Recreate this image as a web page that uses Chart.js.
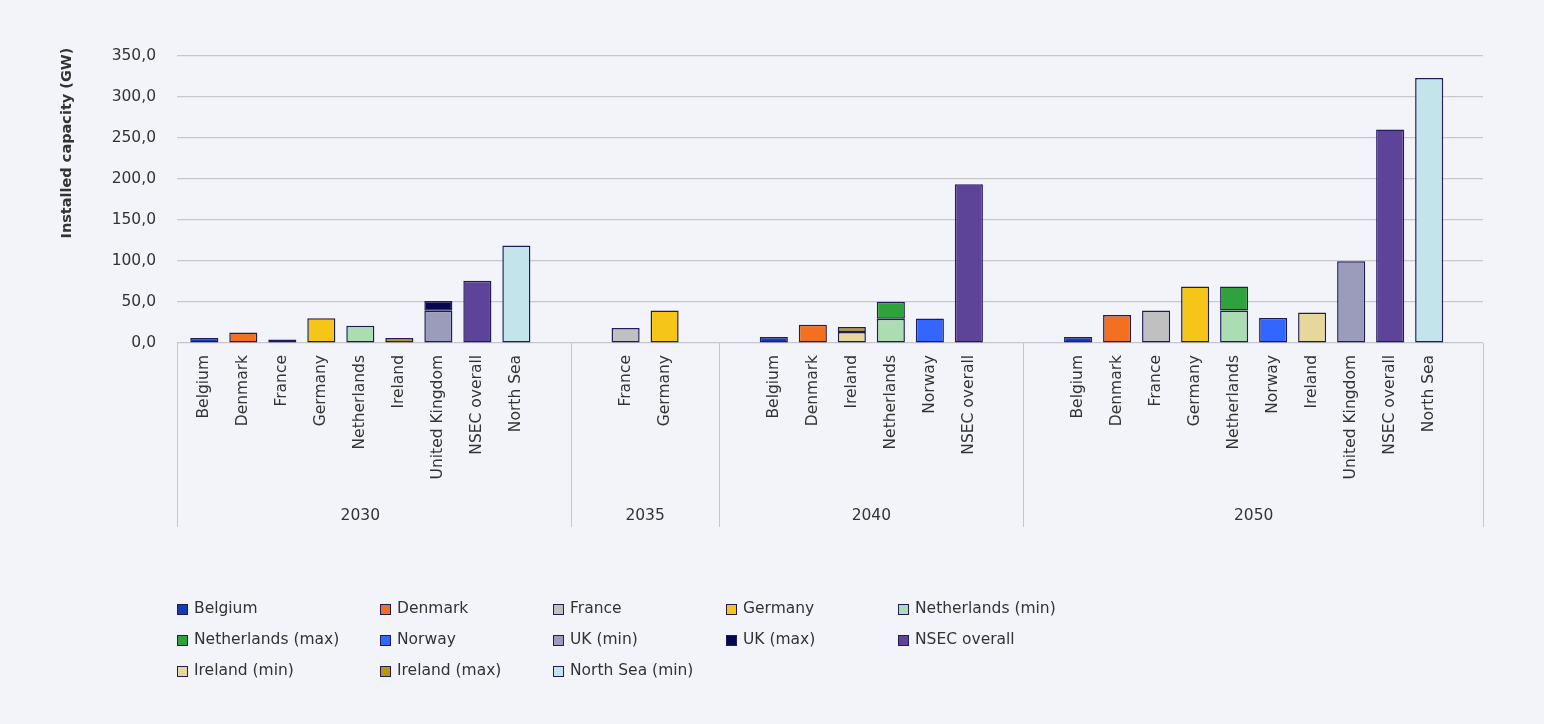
<!DOCTYPE html>
<html>
<head>
<meta charset="utf-8">
<title>Installed capacity (GW)</title>
<script src="https://cdn.jsdelivr.net/npm/chart.js@4.4.0/dist/chart.umd.min.js"></script>
<style>
  html, body { margin: 0; padding: 0; background: #f3f4f9; }
  #wrap { position: relative; width: 1544px; height: 724px; }
</style>
</head>
<body>
<div id="wrap"><canvas id="capacity"></canvas></div>
<script>
const years = ['2030', '2035', '2040', '2050'];
const groupSizes = [9, 2, 6, 10];
const countries = [
    'Belgium', 'Denmark', 'France', 'Germany', 'Netherlands', 'Ireland', 'United Kingdom', 'NSEC overall', 'North Sea',
    'France', 'Germany',
    'Belgium', 'Denmark', 'Ireland', 'Netherlands', 'Norway', 'NSEC overall',
    'Belgium', 'Denmark', 'France', 'Germany', 'Netherlands', 'Norway', 'Ireland', 'United Kingdom', 'NSEC overall', 'North Sea',
];
const yTicks = [0, 50, 100, 150, 200, 250, 300, 350];

const _ = null;
//                  2030                                               2035        2040                               2050
const belgium     = [6.2, _, _, _, _, _, _, _, _,                      _, _,       7.3, _, _, _, _, _,                7.3, _, _, _, _, _, _, _, _, _];
const denmark     = [_, 12.7, _, _, _, _, _, _, _,                     _, _,       _, 22.3, _, _, _, _,               _, 34.1, _, _, _, _, _, _, _, _];
const france      = [_, _, 4.4, _, _, _, _, _, _,                      18.3, _,    _, _, _, _, _, _,                  _, _, 39.7, _, _, _, _, _, _, _];
const germany     = [_, _, _, 30.3, _, _, _, _, _,                     _, 39.7,    _, _, _, _, _, _,                  _, _, _, 68.9, _, _, _, _, _, _];
const nlMin       = [_, _, _, _, 21.0, _, _, _, _,                     _, _,       _, _, _, 29.6, _, _,               _, _, _, _, 39.7, _, _, _, _, _];
const nlMax       = [_, _, _, _, _, _, _, _, _,                        _, _,       _, _, _, 20.7, _, _,               _, _, _, _, 29.2, _, _, _, _, _];
const norway      = [_, _, _, _, _, _, _, _, _,                        _, _,       _, _, _, _, 30.0, _,               _, _, _, _, _, 30.4, _, _, _, _];
const ukMin       = [_, _, _, _, _, _, 39.4, _, _,                     _, _,       _, _, _, _, _, _,                  _, _, _, _, _, _, _, 99.8, _, _];
const ukMax       = [_, _, _, _, _, _, 11.8, _, _,                     _, _,       _, _, _, _, _, _,                  _, _, _, _, _, _, _, _, _, _];
const nsecOverall = [_, _, _, _, _, _, _, 75.8, _,                     _, _,       _, _, _, _, _, 193.5,              _, _, _, _, _, _, _, _, 260.4, _];
const ieMin       = [_, _, _, _, _, _, _, _, _,                        _, _,       _, _, 13.4, _, _, _,               _, _, _, _, _, _, 37.2, _, _, _];
const ieMax       = [_, _, _, _, _, 6.2, _, _, _,                      _, _,       _, _, 6.1, _, _, _,                _, _, _, _, _, _, _, _, _, _];
const northSea    = [_, _, _, _, _, _, _, _, 118.8,                    _, _,       _, _, _, _, _, _,                  _, _, _, _, _, _, _, _, _, 323.2];

const series = [
    { label: 'Belgium', values: belgium, color: '#173bb3' },
    { label: 'Denmark', values: denmark, color: '#f37021' },
    { label: 'France', values: france, color: '#c0c0c0' },
    { label: 'Germany', values: germany, color: '#f5c618' },
    { label: 'Netherlands (min)', values: nlMin, color: '#acdcb1' },
    { label: 'Netherlands (max)', values: nlMax, color: '#2ea33b' },
    { label: 'Norway', values: norway, color: '#3366ff' },
    { label: 'UK (min)', values: ukMin, color: '#9b9cbb' },
    { label: 'UK (max)', values: ukMax, color: '#07074f' },
    { label: 'NSEC overall', values: nsecOverall, color: '#5d4499' },
    { label: 'Ireland (min)', values: ieMin, color: '#e6d89d' },
    { label: 'Ireland (max)', values: ieMax, color: '#b8970b' },
    { label: 'North Sea (min)', values: northSea, color: '#c3e4ea' },
];

const FONT = '"DejaVu Sans", sans-serif';
const TEXT = '#333333';
const GRID = '#c6c6cc';
const OUTLINE = '#1e1c5c';

// bar slots: one unit per bar, wider gaps where the year changes
const GROUP_GAP = 2.8;
const EDGE_LEFT = 0.7;
const EDGE_RIGHT = 1.38;

const xPos = [];
const groupBounds = [];
let cursor = 0;
groupSizes.forEach((n, g) => {
    if (g > 0) cursor += GROUP_GAP - 1;
    const first = cursor;
    for (let i = 0; i < n; i++) xPos.push(cursor++);
    groupBounds.push([first, cursor - 1]);
});

const LEGEND_COLS = [177, 380, 553, 726, 898];
const LEGEND_ROWS = [609, 640, 671];

const groupAxis = {
    id: 'groupAxis',
    afterDraw(chart) {
        const { ctx, chartArea, scales: { x } } = chart;
        const base = chartArea.bottom;
        ctx.save();

        // year separators below the axis
        const edges = [x.min];
        for (let g = 1; g < groupBounds.length; g++) {
            edges.push((groupBounds[g - 1][1] + groupBounds[g][0]) / 2);
        }
        edges.push(x.max);
        ctx.strokeStyle = GRID;
        ctx.lineWidth = 1;
        edges.forEach((v) => {
            const px = Math.round(x.getPixelForValue(v)) + 0.5;
            ctx.beginPath();
            ctx.moveTo(px, base);
            ctx.lineTo(px, base + 184);
            ctx.stroke();
        });

        // country labels, rotated
        ctx.fillStyle = TEXT;
        ctx.font = '15.5px ' + FONT;
        countries.forEach((name, i) => {
            ctx.save();
            ctx.translate(x.getPixelForValue(xPos[i]), base + 12);
            ctx.rotate(-Math.PI / 2);
            ctx.textAlign = 'right';
            ctx.textBaseline = 'middle';
            ctx.fillText(name, 0, 0);
            ctx.restore();
        });

        // year labels
        ctx.textAlign = 'center';
        ctx.textBaseline = 'middle';
        years.forEach((year, g) => {
            const [a, b] = groupBounds[g];
            ctx.fillText(year, x.getPixelForValue((a + b) / 2), base + 173);
        });

        // y axis title
        ctx.save();
        ctx.translate(67, 143);
        ctx.rotate(-Math.PI / 2);
        ctx.font = 'bold 14.5px ' + FONT;
        ctx.fillText('Installed capacity (GW)', 0, 0);
        ctx.restore();

        // legend grid
        ctx.font = '15.5px ' + FONT;
        ctx.textAlign = 'left';
        chart.data.datasets.forEach((ds, i) => {
            const cx = LEGEND_COLS[i % LEGEND_COLS.length];
            const cy = LEGEND_ROWS[Math.floor(i / LEGEND_COLS.length)];
            ctx.fillStyle = ds.backgroundColor;
            ctx.fillRect(cx, cy - 5, 10, 10);
            ctx.strokeStyle = OUTLINE;
            ctx.strokeRect(cx + 0.5, cy - 4.5, 10, 10);
            ctx.fillStyle = TEXT;
            ctx.fillText(ds.label, cx + 17, cy);
        });

        ctx.restore();
    },
};

new Chart(document.getElementById('capacity'), {
    type: 'bar',
    plugins: [groupAxis],
    data: {
        datasets: series.map((s) => ({
            label: s.label,
            data: s.values
                .map((v, i) => (v === null ? null : { x: xPos[i], y: v }))
                .filter(Boolean),
            backgroundColor: s.color,
            borderColor: OUTLINE,
            borderWidth: 1.5,
            borderSkipped: false,
            barPercentage: 0.72,
            categoryPercentage: 1,
        })),
    },
    options: {
        responsive: true,
        maintainAspectRatio: false,
        animation: false,
        events: [],
        layout: { padding: { top: 56, right: 61, bottom: 381, left: 0 } },
        plugins: {
            legend: { display: false },
            tooltip: { enabled: false },
        },
        scales: {
            x: {
                type: 'linear',
                stacked: true,
                display: false,
                offset: false,
                min: -EDGE_LEFT,
                max: xPos[xPos.length - 1] + EDGE_RIGHT,
            },
            y: {
                stacked: true,
                min: yTicks[0],
                max: yTicks[yTicks.length - 1],
                afterBuildTicks: (scale) => {
                    scale.ticks = yTicks.map((v) => ({ value: v }));
                },
                afterFit: (scale) => {
                    scale.width = 177;
                },
                ticks: {
                    padding: 21,
                    color: TEXT,
                    font: { family: FONT, size: 15.5 },
                    callback: (v) => v.toFixed(1).replace('.', ','),
                },
                grid: { color: GRID, lineWidth: 1.2, drawTicks: false },
                border: { display: false },
            },
        },
    },
});
</script>
</body>
</html>
